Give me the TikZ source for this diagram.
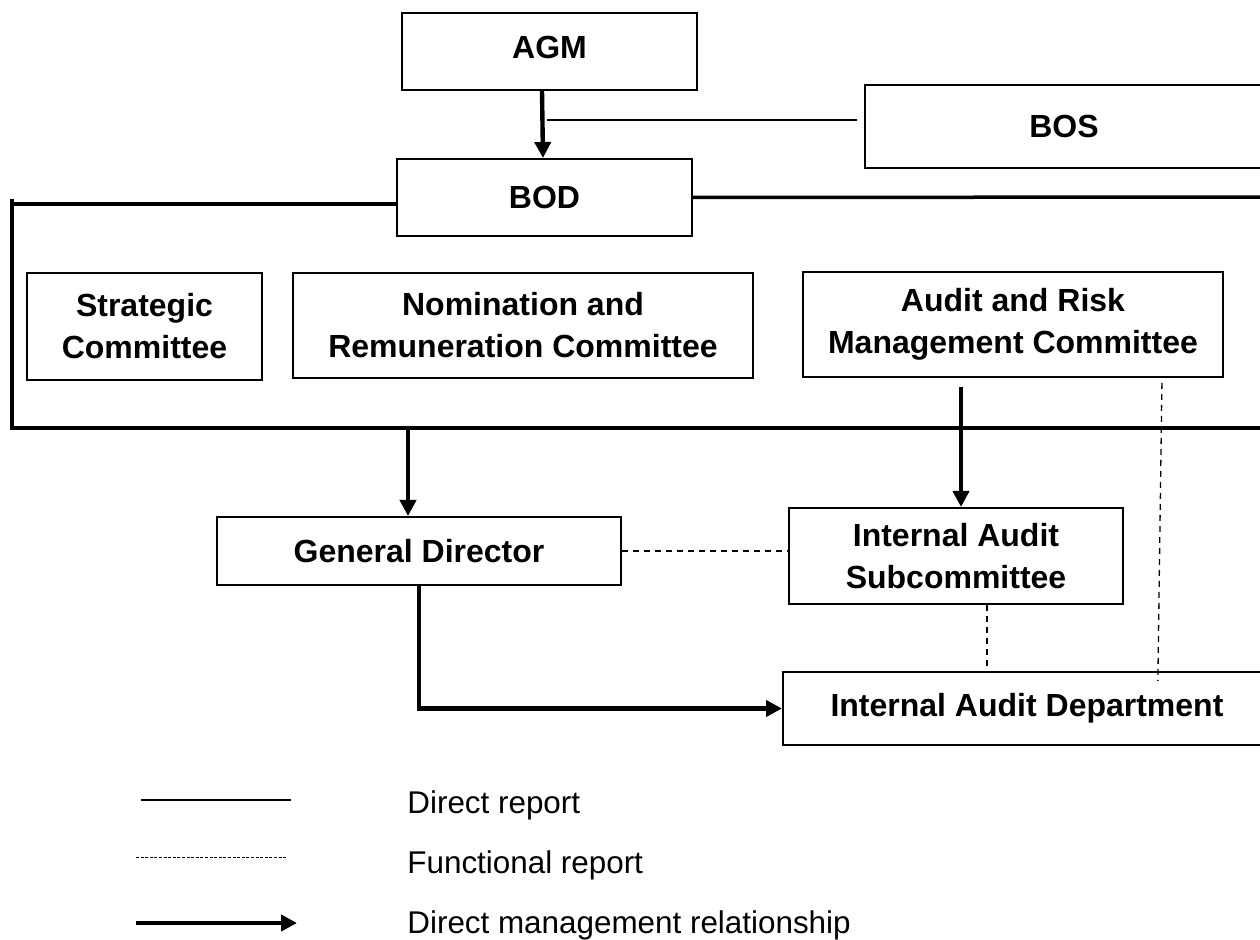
\documentclass[tikz,border=0pt]{standalone}
\usepackage{fontspec}
\setmainfont{Liberation Sans}
\usetikzlibrary{arrows.meta}

\begin{document}
\begin{tikzpicture}[x=0.5pt, y=-0.5pt, >={Triangle[length=8pt,width=8pt]},
	unit/.style={draw, line width=1pt, align=center, inner sep=0pt, font=\fontsize{16}{21}\selectfont\bfseries},
	frame/.style={line width=1.75pt},
	mgmt/.style={->, line width=2.2pt},
	report/.style={line width=0.75pt},
	func/.style={line width=0.65pt, dash pattern=on 3pt off 2.5pt},
	legend/.style={anchor=west, inner sep=0pt, font=\fontsize{15.7}{21}\selectfont}]
	\useasboundingbox (0,0) rectangle (1260,940);
	
	% top level
	\node[unit, minimum width=147.5pt, minimum height=38.5pt] (agm) at (549.5,51.5) {\raisebox{4pt}{AGM}};
	\node[unit, minimum width=199pt, minimum height=41.5pt] (bos) at (1064,126.5) {\raisebox{-3pt}{BOS}};
	\node[unit, minimum width=147.5pt, minimum height=38.5pt] (bod) at (544.5,197.5) {\raisebox{-3pt}{BOD}};
	
	% committees of the BOD
	\node[unit, minimum width=117.5pt, minimum height=53.5pt] (strategic) at (144.5,326.5) {Strategic\\Committee};
	\node[unit, minimum width=230pt, minimum height=52.5pt] (nomination) at (523,325.5) {Nomination and\\Remuneration Committee};
	\node[unit, minimum width=210pt, minimum height=52.5pt] (auditrisk) at (1013,324.5) {Audit and Risk\\Management Committee};
	
	% executive level
	\node[unit, minimum width=202pt, minimum height=34pt] (gd) at (419,551) {General Director};
	\node[unit, minimum width=167pt, minimum height=48pt] (iasub) at (956,556) {Internal Audit\\Subcommittee};
	\node[unit, minimum width=244pt, minimum height=36.5pt] (iadept) at (1027,708.5) {Internal Audit Department};
	
	% frame round the BOD committees
	\coordinate (tl) at (12,204);
	\coordinate (bl) at (12,428);
	\coordinate (br) at (1270,428);
	\coordinate (tr) at (1270,197);
	\draw[frame] (bod.west |- tl) -- (tl);
	\draw[frame] (12,199) -- (bl) -- (br);
	\draw[frame] (bod.east) -- (tr);
	
	% AGM -> BOD, BOS
	\coordinate (bosfoot) at (547,120);
	\draw[mgmt] (agm.south -| 542,0) -- (bod.north -| 543,0);
	\draw[report, shorten >=3.5pt] (bosfoot) -- (bos.west |- bosfoot);
	
	% down to the executive level
	\draw[mgmt] (bl -| 408,0) -- (gd.north -| 408,0);
	\draw[mgmt, shorten <=4.5pt] (auditrisk.south -| 961,0) -- (iasub.north -| 961,0);
	\draw[func] (gd.east) -- (gd.east -| iasub.west);
	\draw[func] (iasub.south -| 987,0) -- (iadept.north -| 987,0);
	\draw[func, shorten <=2.5pt, shorten >=-5pt] (auditrisk.south -| 1162,0) -- (iadept.north -| 1158,0);
	\draw[mgmt] (gd.south) -- (gd.south |- iadept.west) -- (iadept.west);
	
	% legend
	\draw[report] (141,800) -- (291,800);
	\node[legend] (lgdirect) at (407,805) {Direct report};
	\draw[line width=0.5pt, dash pattern=on 1.5pt off 0.8pt] (136,858) -- (286,858);
	\node[legend] (lgfunc) at (407,865) {Functional report};
	\draw[mgmt] (136,923) -- (297,923);
	\node[legend] (lgmgmt) at (407,925) {Direct management relationship};
\end{tikzpicture}
\end{document}
